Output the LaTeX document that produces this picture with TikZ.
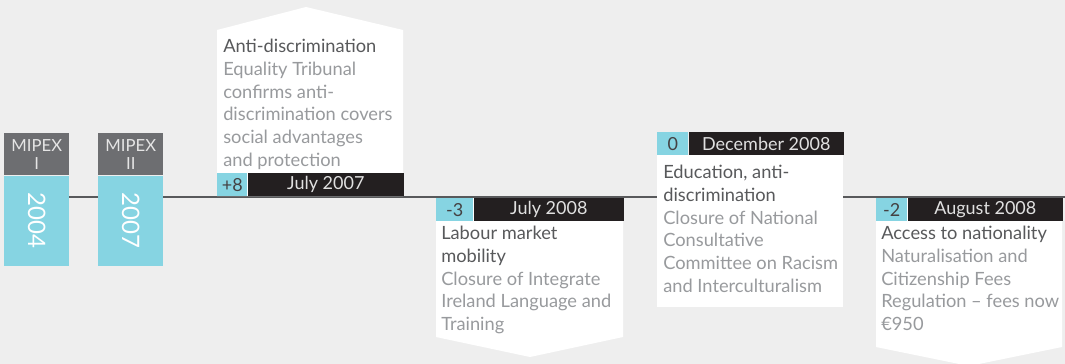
\documentclass[tikz,border=0pt]{standalone}
\usepackage{fontspec}
\setmainfont{Lato}
\usetikzlibrary{positioning}
\definecolor{papergray}{RGB}{238,238,238}
\definecolor{mipexgray}{RGB}{109,110,113}
\definecolor{scorecyan}{RGB}{134,212,226}
\definecolor{barblack}{RGB}{35,31,32}
\definecolor{axisgray}{RGB}{88,89,91}
\definecolor{titlegray}{RGB}{88,89,91}
\definecolor{bodygray}{RGB}{152,154,157}
\tikzset{
  axis/.style={draw=axisgray,line width=1.5pt},
  callout/.style={fill=white},
  mipexhead/.style={fill=mipexgray,text=white!82!mipexgray,
    minimum width=48.75pt,minimum height=31.5pt,inner sep=0pt,
    align=center,font=\fontsize{12.5}{13.5}\selectfont},
  mipexyear/.style={fill=scorecyan,text=white,
    minimum width=48.75pt,minimum height=67.5pt,inner sep=0pt,
    font=\fontsize{18}{20}\selectfont},
  scorebox/.style={fill=scorecyan,text=barblack!85,
    minimum height=17.25pt,inner sep=0pt,font=\fontsize{13.5}{15}\selectfont},
  datebar/.style={fill=barblack,text=white!88!black,
    minimum height=17.25pt,inner sep=0pt,font=\fontsize{13.5}{15}\selectfont},
  eventtext/.style={text=bodygray,align=left,inner sep=0pt,
    font=\fontsize{13.7}{17}\selectfont}
}
\newcommand{\evtitle}[1]{{\color{titlegray}#1}}

\begin{document}
\begin{tikzpicture}[x=0.75pt,y=-0.75pt]
  \fill[papergray] (0,0) rectangle (1065,364);
  \useasboundingbox (0,0) rectangle (1065,364);

  % timeline
  \coordinate (tlstart) at (36,197);
  \coordinate (tlend) at (1065,197);
  \draw[axis] (tlstart) -- (tlend);

  % MIPEX editions
  \node[mipexhead,anchor=north west] (headA) at (4,133) {MIPEX\\I};
  \node[mipexyear,below=0pt of headA] (yearA) {\rotatebox{-90}{2004}};
  \node[mipexhead,anchor=north west] (headB) at (98,133) {MIPEX\\II};
  \node[mipexyear,below=0pt of headB] (yearB) {\rotatebox{-90}{2007}};

  % callouts
  \fill[callout] (217,196) -- (217,30) -- (306,7) -- (403,30) -- (403,196) -- cycle;
  \fill[callout] (436,198) -- (436,337) -- (530,357) -- (623,337) -- (623,198) -- cycle;
  \fill[callout] (657,155) rectangle (843,307);
  \fill[callout] (876,198) -- (876,347) -- (969,366) -- (1062,347) -- (1062,198) -- cycle;

  % July 2007
  \node[scorebox,minimum width=22.5pt,anchor=north west] (scoreA) at (217,173) {+8};
  \node[datebar,minimum width=117pt,right=0pt of scoreA] (dateA) {July 2007};
  \node[eventtext,anchor=north west] (textA) at (223,39) {
    \evtitle{Anti-discrimination}\\Equality Tribunal\\confirms anti-\\
    discrimination covers\\social advantages\\and protection};

  % July 2008
  \node[scorebox,minimum width=27.75pt,anchor=north west] (scoreB) at (436,198) {-3};
  \node[datebar,minimum width=112.5pt,right=0pt of scoreB] (dateB) {July 2008};
  \node[eventtext,anchor=north west] (textB) at (441,226) {
    \evtitle{Labour market}\\\evtitle{mobility}\\Closure of Integrate\\
    Ireland Language and\\Training};

  % December 2008
  \node[scorebox,minimum width=23.25pt,anchor=north west] (scoreC) at (657,132) {0};
  \node[datebar,minimum width=116.25pt,right=0pt of scoreC] (dateC) {December 2008};
  \node[eventtext,anchor=north west] (textC) at (663,165) {
    \evtitle{Education, anti-}\\\evtitle{discrimination}\\Closure of National\\
    Consultative\\Committee on Racism\\and Interculturalism};

  % August 2008
  \node[scorebox,minimum width=23.25pt,anchor=north west] (scoreD) at (876,198) {-2};
  \node[datebar,minimum width=116.25pt,right=0pt of scoreD] (dateD) {August 2008};
  \node[eventtext,anchor=north west] (textD) at (881,226) {
    \evtitle{Access to nationality}\\Naturalisation and\\Citizenship Fees\\
    Regulation -- fees now\\€950};
\end{tikzpicture}
\end{document}
